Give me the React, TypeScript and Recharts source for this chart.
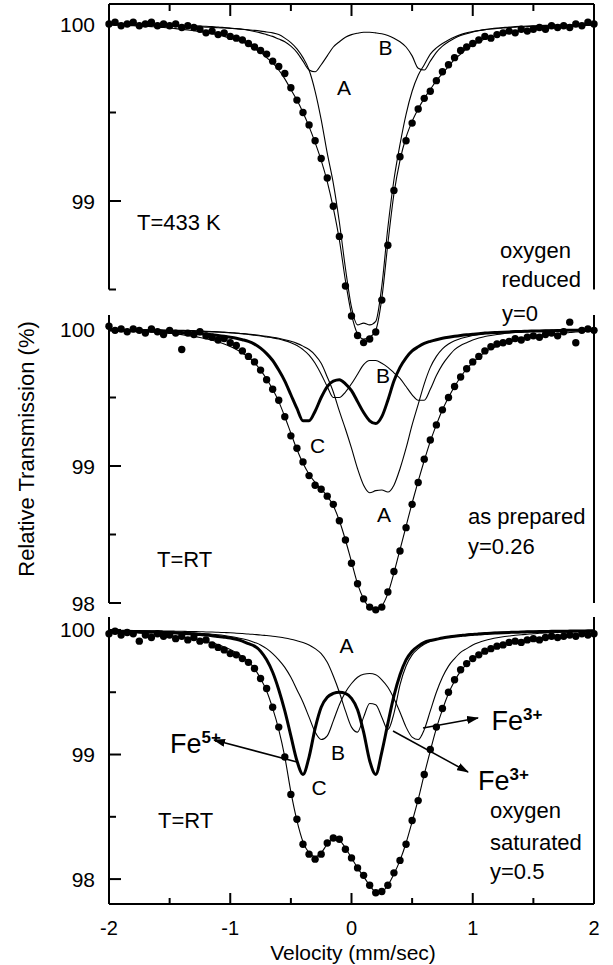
import React from 'react';
import { ComposedChart, Line, XAxis, YAxis, ReferenceLine } from 'recharts';

const W = 613;
const H = 965;
const FONT = '"Liberation Sans", Arial, Helvetica, sans-serif';

// velocity grid (mm/sec)
const velocity = [
  -2, -1.95, -1.9, -1.85, -1.8, -1.75, -1.7, -1.65, -1.6, -1.55,
  -1.5, -1.45, -1.4, -1.35, -1.3, -1.25, -1.2, -1.15, -1.1, -1.05,
  -1, -0.95, -0.9, -0.85, -0.8, -0.75, -0.7, -0.65, -0.6, -0.55,
  -0.5, -0.45, -0.4, -0.35, -0.3, -0.25, -0.2, -0.15, -0.1, -0.05,
  0, 0.05, 0.1, 0.15, 0.2, 0.25, 0.3, 0.35, 0.4, 0.45,
  0.5, 0.55, 0.6, 0.65, 0.7, 0.75, 0.8, 0.85, 0.9, 0.95,
  1, 1.05, 1.1, 1.15, 1.2, 1.25, 1.3, 1.35, 1.4, 1.45,
  1.5, 1.55, 1.6, 1.65, 1.7, 1.75, 1.8, 1.85, 1.9, 1.95,
  2,
];

// T=433 K, oxygen reduced
const p1Data = [
  100.0, 100.01, 99.99, 100.0, 100.01, 99.99, 100.0, 100.01, 99.99, 100.0,
  99.99, 100.0, 99.98, 99.99, 99.98, 99.97, 99.95, 99.96, 99.94, 99.95,
  99.93, 99.92, 99.91, 99.89, 99.87, 99.85, 99.83, 99.79, 99.76, 99.72,
  99.64, 99.57, 99.5, 99.43, 99.34, 99.24, 99.13, 98.97, 98.8, 98.52,
  98.35, 98.24, 98.2, 98.22, 98.26, 98.44, 98.75, 99.06, 99.25, 99.34,
  99.44, 99.52, 99.58, 99.62, 99.68, 99.73, 99.77, 99.81, 99.85, 99.87,
  99.89, 99.91, 99.93, 99.92, 99.94, 99.95, 99.96, 99.95, 99.97, 99.96,
  99.97, 99.98, 99.97, 99.99, 99.98, 99.99, 99.98, 100.0, 99.99, 100.01,
  100.0,
];
const p1Fit = [
  99.995, 99.994, 99.993, 99.992, 99.99, 99.989, 99.987, 99.985, 99.983, 99.98,
  99.977, 99.974, 99.97, 99.966, 99.962, 99.957, 99.951, 99.945, 99.938, 99.93,
  99.92, 99.91, 99.9, 99.88, 99.86, 99.84, 99.81, 99.78, 99.74, 99.69,
  99.63, 99.57, 99.5, 99.42, 99.33, 99.23, 99.11, 98.96, 98.78, 98.55,
  98.36, 98.25, 98.22, 98.23, 98.27, 98.45, 98.76, 99.04, 99.23, 99.36,
  99.45, 99.52, 99.58, 99.63, 99.68, 99.72, 99.76, 99.8, 99.83, 99.86,
  99.88, 99.9, 99.915, 99.925, 99.935, 99.943, 99.95, 99.956, 99.961, 99.966,
  99.97, 99.974, 99.977, 99.98, 99.983, 99.985, 99.987, 99.989, 99.991, 99.993,
  99.994,
];
const p1A = [
  99.995, 99.995, 99.994, 99.994, 99.993, 99.993, 99.992, 99.991, 99.99, 99.99,
  99.989, 99.988, 99.987, 99.986, 99.985, 99.984, 99.982, 99.981, 99.979, 99.977,
  99.975, 99.973, 99.97, 99.967, 99.964, 99.96, 99.955, 99.95, 99.94, 99.92,
  99.895, 99.86, 99.81, 99.74, 99.62, 99.46, 99.27, 99.1, 98.88, 98.62,
  98.4, 98.3, 98.31, 98.3, 98.32, 98.52, 98.85, 99.12, 99.32, 99.49,
  99.62, 99.71, 99.77, 99.83, 99.865, 99.89, 99.91, 99.927, 99.94, 99.95,
  99.957, 99.963, 99.968, 99.972, 99.975, 99.978, 99.98, 99.982, 99.984, 99.985,
  99.986, 99.987, 99.988, 99.989, 99.99, 99.991, 99.992, 99.992, 99.993, 99.993,
  99.994,
];
const p1B = [
  99.998, 99.998, 99.998, 99.997, 99.997, 99.997, 99.996, 99.996, 99.995, 99.995,
  99.994, 99.993, 99.992, 99.991, 99.99, 99.989, 99.987, 99.985, 99.983, 99.98,
  99.977, 99.974, 99.97, 99.965, 99.958, 99.95, 99.94, 99.93, 99.915, 99.9,
  99.875, 99.84, 99.79, 99.74, 99.73, 99.77, 99.82, 99.87, 99.9, 99.925,
  99.94, 99.948, 99.953, 99.953, 99.95, 99.945, 99.935, 99.92, 99.9, 99.87,
  99.82, 99.75, 99.74, 99.79, 99.84, 99.875, 99.9, 99.92, 99.935, 99.945,
  99.955, 99.962, 99.968, 99.973, 99.977, 99.98, 99.983, 99.985, 99.987, 99.989,
  99.99, 99.991, 99.992, 99.993, 99.994, 99.994, 99.995, 99.995, 99.996, 99.996,
  99.996,
];

// T=RT, as prepared
const p2Data = [
  100.02, 99.99, 100.0, 99.98, 100.0, 99.99, 99.97, 100.0, 99.98, 99.96,
  99.99, 99.97, 99.85, 99.97, 99.96, 99.98, 99.95, 99.94, 99.92, 99.93,
  99.9, 99.88, 99.84, 99.8, 99.76, 99.7, 99.63, 99.56, 99.48, 99.36,
  99.22, 99.13, 99.03, 98.93, 98.86, 98.83, 98.78, 98.72, 98.6, 98.46,
  98.29, 98.14, 98.03, 97.97, 97.95, 97.97, 98.08, 98.23, 98.38, 98.55,
  98.72, 98.88, 99.05, 99.19, 99.3, 99.41, 99.5, 99.58, 99.65, 99.71,
  99.76, 99.8, 99.84, 99.87, 99.89, 99.9, 99.91, 99.93, 99.92, 99.94,
  99.95, 99.94, 99.96, 99.97, 99.95, 99.98, 100.05, 99.9, 99.99, 100.0,
  99.99,
];
const p2Fit = [
  99.995, 99.994, 99.992, 99.99, 99.988, 99.986, 99.983, 99.98, 99.977, 99.973,
  99.969, 99.964, 99.959, 99.953, 99.946, 99.938, 99.929, 99.918, 99.905, 99.89,
  99.872, 99.85, 99.825, 99.795, 99.755, 99.7, 99.635, 99.56, 99.47, 99.36,
  99.24, 99.12, 99.02, 98.94, 98.88, 98.83, 98.78, 98.71, 98.6, 98.46,
  98.3, 98.14, 98.03, 97.97, 97.96, 97.98, 98.07, 98.22, 98.39, 98.56,
  98.73, 98.89, 99.04, 99.18, 99.3, 99.41, 99.5, 99.58, 99.65, 99.71,
  99.755, 99.795, 99.83, 99.855, 99.875, 99.89, 99.905, 99.917, 99.927, 99.936,
  99.944, 99.951, 99.957, 99.962, 99.967, 99.971, 99.975, 99.978, 99.981, 99.984,
  99.986,
];
const p2A = [
  99.995, 99.995, 99.994, 99.994, 99.993, 99.993, 99.992, 99.991, 99.99, 99.99,
  99.989, 99.988, 99.987, 99.986, 99.984, 99.983, 99.981, 99.979, 99.977, 99.975,
  99.972, 99.969, 99.966, 99.962, 99.958, 99.953, 99.947, 99.94, 99.932, 99.922,
  99.91, 99.895, 99.875, 99.85, 99.81, 99.75, 99.65, 99.54, 99.4, 99.27,
  99.13, 98.98, 98.86, 98.805, 98.82, 98.825, 98.81, 98.86, 98.98, 99.13,
  99.3, 99.45, 99.6, 99.72, 99.8, 99.855, 99.89, 99.915, 99.93, 99.942,
  99.952, 99.96, 99.966, 99.971, 99.975, 99.978, 99.981, 99.983, 99.985, 99.987,
  99.988, 99.989, 99.99, 99.991, 99.992, 99.993, 99.993, 99.994, 99.994, 99.995,
  99.995,
];
const p2B = [
  99.997, 99.997, 99.996, 99.996, 99.996, 99.995, 99.995, 99.994, 99.994, 99.993,
  99.992, 99.991, 99.99, 99.989, 99.988, 99.986, 99.984, 99.982, 99.98, 99.977,
  99.974, 99.97, 99.966, 99.961, 99.955, 99.949, 99.942, 99.935, 99.927, 99.915,
  99.9, 99.88, 99.85, 99.81, 99.75, 99.67, 99.58, 99.5, 99.5, 99.54,
  99.6, 99.67, 99.74, 99.77, 99.77, 99.75, 99.72, 99.68, 99.64, 99.58,
  99.52, 99.48, 99.48, 99.56, 99.66, 99.74, 99.8, 99.85, 99.88, 99.9,
  99.92, 99.935, 99.945, 99.953, 99.96, 99.966, 99.971, 99.975, 99.978, 99.981,
  99.983, 99.985, 99.987, 99.988, 99.989, 99.99, 99.991, 99.992, 99.993, 99.993,
  99.994,
];
const p2C = [
  99.992, 99.991, 99.99, 99.989, 99.988, 99.987, 99.986, 99.984, 99.983, 99.981,
  99.979, 99.977, 99.975, 99.972, 99.97, 99.966, 99.963, 99.958, 99.953, 99.947,
  99.94, 99.932, 99.922, 99.91, 99.89, 99.86, 99.82, 99.77, 99.7, 99.62,
  99.52, 99.42, 99.33, 99.33, 99.4, 99.5, 99.58, 99.62, 99.63, 99.6,
  99.55, 99.47, 99.39, 99.33, 99.31, 99.36, 99.48, 99.62, 99.72, 99.79,
  99.84, 99.87, 99.895, 99.91, 99.922, 99.932, 99.94, 99.947, 99.953, 99.958,
  99.962, 99.966, 99.97, 99.973, 99.975, 99.977, 99.979, 99.981, 99.982, 99.984,
  99.985, 99.986, 99.987, 99.988, 99.989, 99.99, 99.99, 99.991, 99.992, 99.992,
  99.993,
];

// T=RT, oxygen saturated
const p3Data = [
  99.97, 99.99, 99.96, 99.98, 99.97, 99.91, 99.96, 99.94, 99.97, 99.95,
  99.96, 99.93, 99.95, 99.92, 99.94, 99.91, 99.92, 99.88, 99.86, 99.84,
  99.81, 99.8, 99.77, 99.74, 99.69, 99.61, 99.53, 99.38, 99.22, 98.98,
  98.68, 98.48, 98.28, 98.2, 98.16, 98.2, 98.29, 98.33, 98.32, 98.24,
  98.17, 98.09, 98.03, 97.95, 97.89, 97.9, 97.95, 98.05, 98.15, 98.28,
  98.47, 98.63, 98.84, 99.04, 99.22, 99.37, 99.5, 99.6, 99.68, 99.73,
  99.77, 99.8, 99.83, 99.85, 99.87, 99.88, 99.9, 99.91, 99.9, 99.92,
  99.93, 99.92, 99.94, 99.95, 99.94, 99.95, 99.96, 99.95, 99.97, 99.96,
  99.97,
];
const p3Fit = [
  99.985, 99.983, 99.981, 99.979, 99.977, 99.974, 99.971, 99.968, 99.964, 99.96,
  99.955, 99.95, 99.944, 99.937, 99.929, 99.92, 99.91, 99.897, 99.882, 99.864,
  99.843, 99.818, 99.787, 99.745, 99.69, 99.61, 99.51, 99.37, 99.2, 98.98,
  98.7, 98.47, 98.3, 98.21, 98.18, 98.21, 98.28, 98.32, 98.31, 98.25,
  98.17, 98.09, 98.02, 97.95, 97.9, 97.9, 97.95, 98.04, 98.15, 98.29,
  98.46, 98.64, 98.84, 99.03, 99.21, 99.36, 99.49, 99.59, 99.67, 99.725,
  99.77, 99.8, 99.827, 99.849, 99.867, 99.882, 99.895, 99.906, 99.915, 99.923,
  99.93, 99.936, 99.942, 99.947, 99.951, 99.955, 99.959, 99.962, 99.965, 99.968,
  99.97,
];
const p3A = [
  99.996, 99.996, 99.995, 99.995, 99.995, 99.994, 99.994, 99.993, 99.993, 99.992,
  99.991, 99.99, 99.989, 99.988, 99.987, 99.986, 99.984, 99.983, 99.981, 99.979,
  99.977, 99.974, 99.971, 99.968, 99.964, 99.96, 99.955, 99.95, 99.943, 99.935,
  99.925, 99.913, 99.9, 99.88, 99.85, 99.81, 99.74, 99.63, 99.5, 99.35,
  99.22, 99.18, 99.3, 99.41, 99.4, 99.3, 99.2, 99.33, 99.56, 99.71,
  99.8, 99.85, 99.885, 99.91, 99.925, 99.937, 99.946, 99.953, 99.96, 99.965,
  99.97, 99.973, 99.976, 99.979, 99.981, 99.983, 99.985, 99.986, 99.988, 99.989,
  99.99, 99.991, 99.991, 99.992, 99.993, 99.993, 99.994, 99.994, 99.995, 99.995,
  99.995,
];
const p3B = [
  99.995, 99.995, 99.994, 99.994, 99.993, 99.992, 99.991, 99.99, 99.989, 99.988,
  99.986, 99.984, 99.982, 99.98, 99.977, 99.974, 99.97, 99.966, 99.961, 99.955,
  99.948, 99.94, 99.93, 99.917, 99.9, 99.88, 99.85, 99.81, 99.76, 99.7,
  99.62, 99.52, 99.42, 99.3, 99.18, 99.12, 99.15, 99.27, 99.4, 99.5,
  99.57, 99.62, 99.645, 99.65, 99.64, 99.6, 99.54, 99.45, 99.34, 99.22,
  99.14, 99.12, 99.2, 99.35, 99.5, 99.62, 99.71, 99.77, 99.82, 99.85,
  99.88, 99.9, 99.915, 99.927, 99.937, 99.945, 99.951, 99.957, 99.962, 99.966,
  99.97, 99.973, 99.976, 99.978, 99.98, 99.982, 99.984, 99.985, 99.986, 99.987,
  99.988,
];
const p3C = [
  99.992, 99.991, 99.99, 99.989, 99.988, 99.987, 99.985, 99.984, 99.982, 99.98,
  99.978, 99.976, 99.973, 99.97, 99.967, 99.963, 99.959, 99.954, 99.948, 99.942,
  99.935, 99.925, 99.91, 99.89, 99.87, 99.83, 99.76, 99.66, 99.52, 99.35,
  99.15, 98.95, 98.84, 98.98, 99.21, 99.38, 99.46, 99.49, 99.5, 99.49,
  99.45, 99.36, 99.18, 98.95, 98.84, 99.02, 99.25, 99.47, 99.64, 99.76,
  99.83, 99.87, 99.9, 99.915, 99.925, 99.935, 99.943, 99.95, 99.955, 99.96,
  99.964, 99.968, 99.971, 99.974, 99.976, 99.978, 99.98, 99.982, 99.983, 99.985,
  99.986, 99.987, 99.988, 99.989, 99.99, 99.99, 99.991, 99.992, 99.992, 99.993,
  99.993,
];

const xTicks = [-2, -1.5, -1, -0.5, 0, 0.5, 1, 1.5, 2];
const yTicks1 = [98.5, 99, 99.5, 100];
const yTicks23 = [98, 98.5, 99, 99.5, 100];

const rows1 = velocity.map((v, i) => ({ v, dots: p1Data[i], fit: p1Fit[i], a: p1A[i], b: p1B[i] }));
const rows2 = velocity.map((v, i) => ({ v, dots: p2Data[i], fit: p2Fit[i], a: p2A[i], b: p2B[i], c: p2C[i] }));
const rows3 = velocity.map((v, i) => ({ v, dots: p3Data[i], fit: p3Fit[i], a: p3A[i], b: p3B[i], c: p3C[i] }));

// ticks point inward, like the original figure
const LeftTick = (p: any) => {
  const major = Number.isInteger(p.payload.value);
  return (
    <g>
      <line x1={p.x} y1={p.y} x2={p.x + (major ? 12 : 7)} y2={p.y} stroke="#000" strokeWidth={2} />
      {major && (
        <text x={p.x - 14} y={p.y + 7.5} textAnchor="end" fontSize={21} fontFamily={FONT} fill="#000">
          {p.payload.value}
        </text>
      )}
    </g>
  );
};

const RightTick = (p: any) => (
  <line x1={p.x} y1={p.y} x2={p.x - 12} y2={p.y} stroke="#000" strokeWidth={2} />
);

const TopTick = (p: any) => {
  const major = Number.isInteger(p.payload.value);
  return <line x1={p.x} y1={p.y} x2={p.x} y2={p.y + (major ? 12 : 7)} stroke="#000" strokeWidth={2} />;
};

const BottomTick = (p: any) => {
  const major = Number.isInteger(p.payload.value);
  return (
    <g>
      <line x1={p.x} y1={p.y} x2={p.x} y2={p.y - (major ? 11 : 6)} stroke="#000" strokeWidth={2} />
      {major && (
        <text x={p.x} y={p.y + 31} textAnchor="middle" fontSize={20} fontFamily={FONT} fill="#000">
          {p.payload.value}
        </text>
      )}
    </g>
  );
};

type PanelProps = {
  rows: any[];
  domain: [number, number];
  frameLo: number;
  yTicks: number[];
  top: number;
  bottom: number;
  xPos: 'top' | 'bottom' | 'none';
  lines: { key: string; width: number }[];
};

const Panel = ({ rows, domain, frameLo, yTicks, top, bottom, xPos, lines }: PanelProps) => (
  <div style={{ position: 'absolute', left: 0, top: 0 }}>
    <ComposedChart
      width={W}
      height={H}
      data={rows}
      margin={{
        top: xPos === 'top' ? top - 1 : top,
        bottom: xPos === 'bottom' ? bottom - 1 : bottom,
        left: 108,
        right: 18,
      }}
    >
      <XAxis
        dataKey="v"
        type="number"
        domain={[-2, 2]}
        ticks={xTicks}
        interval={0}
        hide={xPos === 'none'}
        orientation={xPos === 'top' ? 'top' : 'bottom'}
        height={1}
        tickSize={0}
        tickMargin={0}
        tickLine={false}
        axisLine={{ stroke: '#000', strokeWidth: 2 }}
        tick={(p: any) => (xPos === 'top' ? <TopTick {...p} /> : <BottomTick {...p} />)}
      />
      <YAxis
        yAxisId="left"
        type="number"
        domain={domain}
        ticks={yTicks}
        interval={0}
        width={1}
        tickSize={0}
        tickMargin={0}
        tickLine={false}
        axisLine={false}
        tick={(p: any) => <LeftTick {...p} />}
      />
      <YAxis
        yAxisId="right"
        orientation="right"
        type="number"
        domain={domain}
        ticks={yTicks}
        interval={0}
        width={1}
        tickSize={0}
        tickMargin={0}
        tickLine={false}
        axisLine={false}
        tick={(p: any) => <RightTick {...p} />}
      />
      <ReferenceLine
        yAxisId="left"
        ifOverflow="visible"
        segment={[{ x: -2, y: frameLo }, { x: -2, y: domain[1] }]}
        stroke="#000"
        strokeWidth={2}
      />
      <ReferenceLine
        yAxisId="left"
        ifOverflow="visible"
        segment={[{ x: 2, y: frameLo }, { x: 2, y: domain[1] }]}
        stroke="#000"
        strokeWidth={2}
      />
      {lines.map((l) => (
        <Line
          key={l.key}
          yAxisId="left"
          type="monotone"
          dataKey={l.key}
          stroke="#000"
          strokeWidth={l.width}
          dot={false}
          activeDot={false}
          isAnimationActive={false}
        />
      ))}
      <Line
        yAxisId="left"
        dataKey="dots"
        stroke="none"
        dot={{ r: 3.7, fill: '#000', stroke: 'none' }}
        activeDot={false}
        isAnimationActive={false}
      />
    </ComposedChart>
  </div>
);

const labels = [
  { t: 'A', x: 344, y: 95, s: 21, a: 'middle' },
  { t: 'B', x: 385.5, y: 55, s: 21, a: 'middle' },
  { t: 'T=433 K', x: 137, y: 230, s: 22, a: 'start' },
  { t: 'oxygen', x: 500, y: 258, s: 22, a: 'start' },
  { t: 'reduced', x: 501.5, y: 286.5, s: 22, a: 'start' },
  { t: 'y=0', x: 502, y: 320.5, s: 22, a: 'start' },
  { t: 'B', x: 383, y: 383, s: 21, a: 'middle' },
  { t: 'C', x: 317.5, y: 453, s: 21, a: 'middle' },
  { t: 'A', x: 384, y: 521.5, s: 21, a: 'middle' },
  { t: 'as prepared', x: 468, y: 524, s: 22, a: 'start' },
  { t: 'y=0.26', x: 468, y: 554, s: 22, a: 'start' },
  { t: 'T=RT', x: 157, y: 566.5, s: 22, a: 'start' },
  { t: 'A', x: 346.5, y: 653, s: 21, a: 'middle' },
  { t: 'B', x: 338, y: 760, s: 21, a: 'middle' },
  { t: 'C', x: 319, y: 795, s: 21, a: 'middle' },
  { t: 'oxygen', x: 490, y: 818, s: 22, a: 'start' },
  { t: 'saturated', x: 490, y: 850, s: 22, a: 'start' },
  { t: 'y=0.5', x: 490, y: 879, s: 22, a: 'start' },
  { t: 'T=RT', x: 158, y: 828, s: 22, a: 'start' },
];

const ions = [
  { base: 'Fe', sup: '5+', x: 170, y: 753 },
  { base: 'Fe', sup: '3+', x: 491.5, y: 730 },
  { base: 'Fe', sup: '3+', x: 478, y: 790 },
];

const arrows = [
  { x1: 297, y1: 762, x2: 214, y2: 740 },
  { x1: 423, y1: 728, x2: 478, y2: 718 },
  { x1: 393, y1: 731, x2: 468, y2: 772 },
];

const Notes = () => (
  <svg width={W} height={H} style={{ position: 'absolute', left: 0, top: 0, pointerEvents: 'none' }}>
    <defs>
      <marker id="arrowHead" markerWidth={12} markerHeight={8} refX={11} refY={4} orient="auto" markerUnits="userSpaceOnUse">
        <path d="M0,0 L12,4 L0,8 z" fill="#000" />
      </marker>
    </defs>
    {labels.map((l, i) => (
      <text key={i} x={l.x} y={l.y} fontSize={l.s} fontFamily={FONT} textAnchor={l.a as any} fill="#000">
        {l.t}
      </text>
    ))}
    {ions.map((n, i) => (
      <g key={i}>
        <text x={n.x} y={n.y} fontSize={27} fontFamily={FONT} fill="#000">{n.base}</text>
        <text x={n.x + 31.5} y={n.y - 10} fontSize={17} fontWeight="bold" fontFamily={FONT} fill="#000">{n.sup}</text>
      </g>
    ))}
    {arrows.map((a, i) => (
      <line key={i} x1={a.x1} y1={a.y1} x2={a.x2} y2={a.y2} stroke="#000" strokeWidth={1.5} markerEnd="url(#arrowHead)" />
    ))}
    <text x={353} y={960} textAnchor="middle" fontSize={21} fontFamily={FONT} fill="#000">Velocity (mm/sec)</text>
    <text transform="translate(34,449) rotate(-90)" textAnchor="middle" fontSize={22} fontFamily={FONT} fill="#000">
      Relative Transmission (%)
    </text>
  </svg>
);

export default function App() {
  return (
    <div style={{ position: 'absolute', left: 0, top: 0, width: W, height: H, background: '#fff', overflow: 'hidden' }}>
      <Panel
        rows={rows1}
        domain={[98.1017, 100.113]}
        frameLo={98.5}
        yTicks={yTicks1}
        top={4}
        bottom={605}
        xPos="top"
        lines={[{ key: 'a', width: 1.1 }, { key: 'b', width: 1.1 }, { key: 'fit', width: 1.1 }]}
      />
      <Panel
        rows={rows2}
        domain={[97.9, 100.1022]}
        frameLo={98}
        yTicks={yTicks23}
        top={315}
        bottom={348.3}
        xPos="none"
        lines={[{ key: 'a', width: 1.1 }, { key: 'b', width: 1.1 }, { key: 'c', width: 3 }, { key: 'fit', width: 1.1 }]}
      />
      <Panel
        rows={rows3}
        domain={[97.8, 100.104]}
        frameLo={97.8}
        yTicks={yTicks23}
        top={617}
        bottom={61}
        xPos="bottom"
        lines={[{ key: 'a', width: 1.1 }, { key: 'b', width: 1.1 }, { key: 'c', width: 3 }, { key: 'fit', width: 1.1 }]}
      />
      <Notes />
    </div>
  );
}
